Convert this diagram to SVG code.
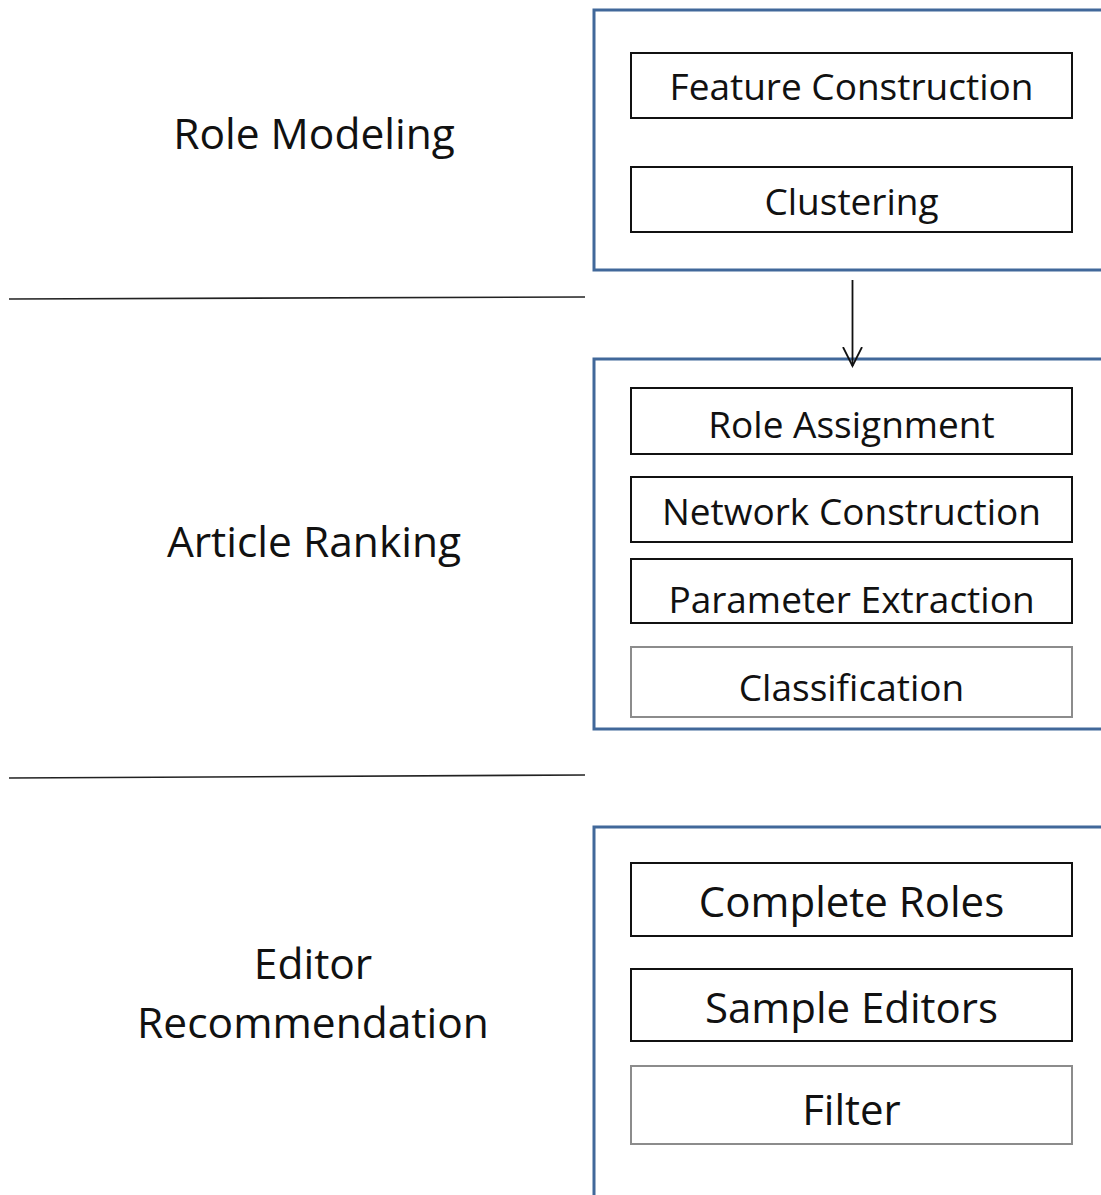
<svg xmlns="http://www.w3.org/2000/svg" width="1101" height="1195" viewBox="0 0 1101 1195">
<style>
.outer{fill:#fff;stroke:#41689a;stroke-width:3}
.step{fill:#fff;stroke:#111;stroke-width:2}
.step2{fill:#fff;stroke:#8c8c8c;stroke-width:2}
.div{stroke:#222;stroke-width:1.6}
text{font-family:"Open Sans","Noto Sans",sans-serif;fill:#111;text-anchor:middle}
.lab{font-size:42.5px}
.st{font-size:37px}
.stb{font-size:42px}
</style>
<defs>
<marker id="arr" markerWidth="24" markerHeight="24" refX="19" refY="10" orient="auto" markerUnits="userSpaceOnUse" viewBox="0 0 24 24">
<polyline points="0,0.5 19,10 0,19.5" fill="none" stroke="#111" stroke-width="1.8"/>
</marker>
</defs>
<rect width="1101" height="1195" fill="#fff"/>
<g id="labels">
<text class="lab" x="314" y="149">Role Modeling</text>
<text class="lab" x="314" y="557">Article Ranking</text>
<text class="lab" x="313" y="979">Editor</text>
<text class="lab" x="313" y="1038">Recommendation</text>
</g>
<g id="dividers">
<line class="div" x1="9" y1="299" x2="585" y2="297"/>
<line class="div" x1="9" y1="778" x2="585" y2="775"/>
</g>
<g id="role-modeling">
<rect class="outer" x="594" y="10" width="520" height="260"/>
<g id="feature-construction"><rect class="step" x="631" y="53" width="441" height="65"/><text class="st" x="851.5" y="100">Feature Construction</text></g>
<g id="clustering"><rect class="step" x="631" y="167" width="441" height="65"/><text class="st" x="851.5" y="215">Clustering</text></g>
</g>
<g id="article-ranking">
<rect class="outer" x="594" y="359" width="520" height="370"/>
<g id="role-assignment"><rect class="step" x="631" y="388" width="441" height="66"/><text class="st" x="851.5" y="438">Role Assignment</text></g>
<g id="network-construction"><rect class="step" x="631" y="477" width="441" height="65"/><text class="st" x="851.5" y="525">Network Construction</text></g>
<g id="parameter-extraction"><rect class="step" x="631" y="559" width="441" height="64"/><text class="st" x="851.5" y="613">Parameter Extraction</text></g>
<g id="classification"><rect class="step2" x="631" y="647" width="441" height="70"/><text class="st" x="851.5" y="701">Classification</text></g>
</g>
<g id="editor-recommendation">
<rect class="outer" x="594" y="827" width="520" height="400"/>
<g id="complete-roles"><rect class="step" x="631" y="863" width="441" height="73"/><text class="stb" x="851.5" y="917">Complete Roles</text></g>
<g id="sample-editors"><rect class="step" x="631" y="969" width="441" height="72"/><text class="stb" x="851.5" y="1023">Sample Editors</text></g>
<g id="filter"><rect class="step2" x="631" y="1066" width="441" height="78"/><text class="stb" x="851.5" y="1125">Filter</text></g>
</g>
<g id="connectors">
<line x1="852.5" y1="280" x2="852.5" y2="366" stroke="#111" stroke-width="1.8" marker-end="url(#arr)"/>
</g>
</svg>
